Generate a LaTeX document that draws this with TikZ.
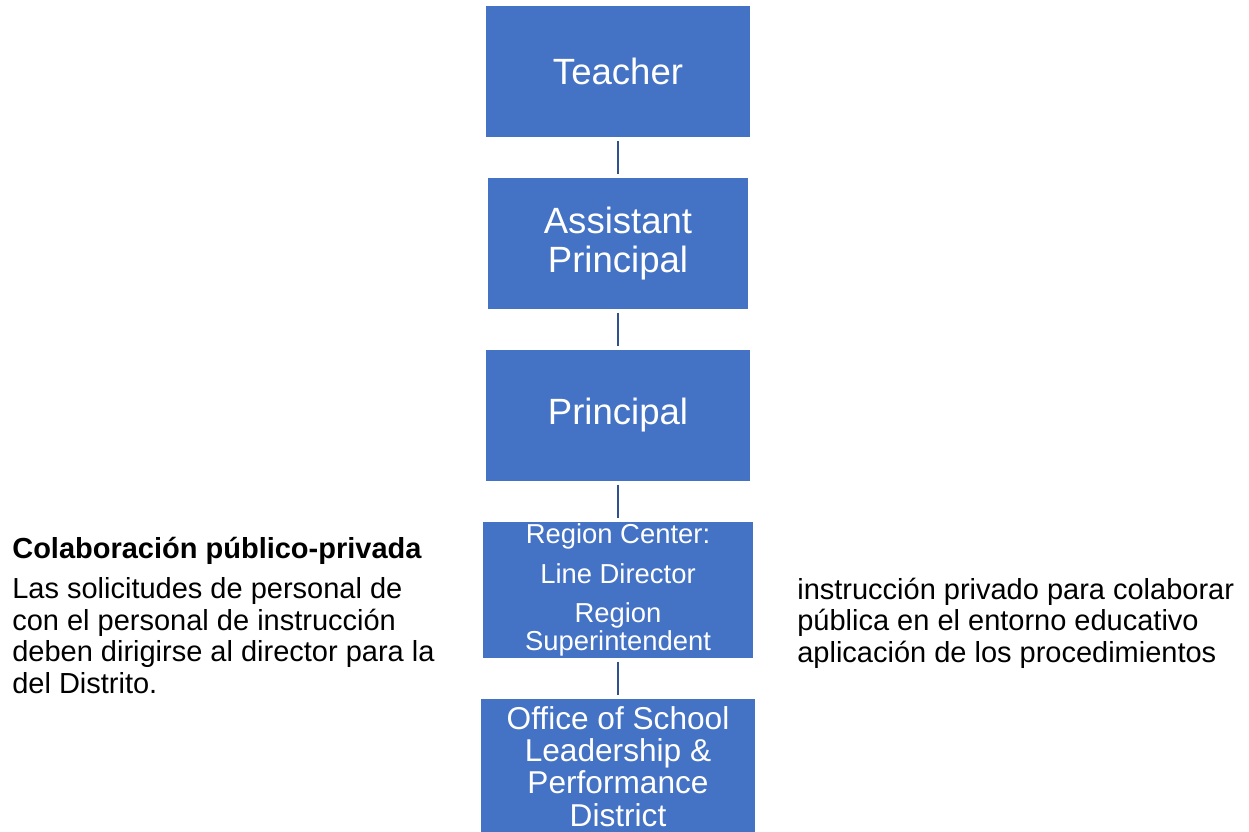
\documentclass[tikz,border=0pt]{standalone}
\usepackage{fontspec}
\setmainfont{Liberation Sans}
\usepackage{xcolor}
\usepackage{tikz}
\usetikzlibrary{positioning}

\definecolor{boxblue}{HTML}{4472C4}
\definecolor{linkblue}{HTML}{2F528F}

\begin{document}
\begin{tikzpicture}[
    x=0.02cm, y=-0.02cm,
    box/.style={rectangle, draw=white, line width=0.6pt, fill=boxblue, text=white, inner sep=0pt, align=center},
    bigtext/.style={font=\fontsize{20.8}{22.1}\selectfont},
    smalltext/.style={font=\fontsize{15.6}{15.9}\selectfont},
    midtext/.style={font=\fontsize{18}{18.3}\selectfont},
    note/.style={anchor=base west, align=left, inner sep=0pt, font=\fontsize{16.5}{17.9}\selectfont},
    link/.style={draw=linkblue, line width=1.2pt, shorten <=1.5pt, shorten >=1.5pt}
]
\useasboundingbox (0,0) rectangle (1249,832);

\node[box, bigtext, minimum width=5.3cm, minimum height=2.66cm] at (618,71.5) (teacher) {Teacher};
\node[box, bigtext, below=0.77cm of teacher, minimum width=5.24cm, minimum height=2.64cm] (assistant) {Assistant\\Principal};
\node[box, bigtext, below=0.78cm of assistant, minimum width=5.3cm, minimum height=2.64cm] (principal) {Principal};
\node[box, smalltext, below=0.78cm of principal, minimum width=5.44cm, minimum height=2.74cm] (region) {Region Center:\\[6.5pt]Line Director\\[6.5pt]Region\\Superintendent};
\node[box, midtext, below=0.77cm of region, minimum width=5.5cm, minimum height=2.74cm] (office) {Office of School\\Leadership \&\\Performance\\District};

\node[note] at (12,693) (collab) {\textbf{Colaboración público-privada}\\[4.8pt]Las solicitudes de personal de\\con el personal de instrucción\\deben dirigirse al director para la\\del Distrito.};
\node[note] at (797,662) (collabright) {instrucción privado para colaborar\\pública en el entorno educativo\\aplicación de los procedimientos};

\draw[link] (teacher) -- (assistant);
\draw[link] (assistant) -- (principal);
\draw[link] (principal) -- (region);
\draw[link] (region) -- (office);

\end{tikzpicture}
\end{document}
